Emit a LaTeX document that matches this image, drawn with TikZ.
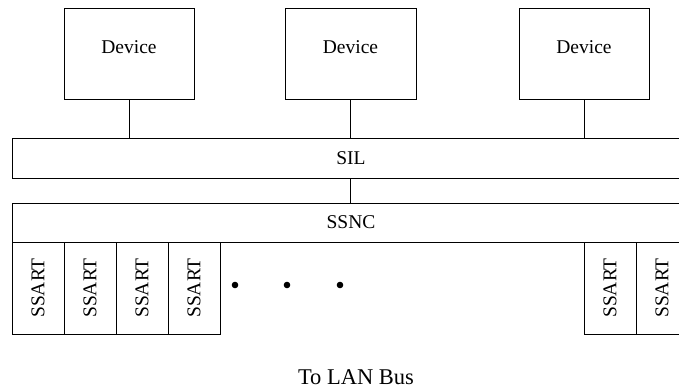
\documentclass[tikz,border=0pt]{standalone}
\usepackage{fontspec}
\setmainfont{Liberation Serif}
\begin{document}
\begin{tikzpicture}[x=1pt,y=-1pt,
  box/.style={draw, line width=0.8pt, rectangle, inner sep=0pt, font=\fontsize{19.5}{22}\selectfont},
  conn/.style={draw, line width=0.8pt},
  lbl/.style={font=\fontsize{19.5}{22}\selectfont, inner sep=0pt}]
\useasboundingbox (0,0) rectangle (679,390);
% devices
\node[box, minimum width=130pt, minimum height=91pt] (d1) at (129,53.5) {};
\node[lbl] at (129,47) {Device};
\node[box, minimum width=131pt, minimum height=91pt] (d2) at (350.5,53.5) {};
\node[lbl] at (350.5,47) {Device};
\node[box, minimum width=130pt, minimum height=91pt] (d3) at (584,53.5) {};
\node[lbl] at (584,47) {Device};
% SIL
\node[box, minimum width=678pt, minimum height=40pt] (sil) at (351,158) {SIL};
% SSNC
\node[box, minimum width=678pt, minimum height=39pt] (ssnc) at (351,222.5) {SSNC};
% connectors
\draw[conn] (d1.south) -- (d1.south |- sil.north);
\draw[conn] (d2.south) -- (d2.south |- sil.north);
\draw[conn] (d3.south) -- (d3.south |- sil.north);
\coordinate (silb) at (350,178);
\coordinate (ssnct) at (350,203);
\draw[conn] (silb) -- (ssnct);
% SSART boxes
\foreach \i/\cx in {1/38,2/90,3/142,4/194,5/610,6/662}{
  \node[box, minimum width=52pt, minimum height=92pt] (s\i) at (\cx,288) {\rotatebox{90}{SSART}};
}
% dots
\foreach \i/\dx in {1/235,2/287,3/340}{
  \fill (\dx,285) circle (3.3pt) coordinate (dot\i);
}
\node[font=\fontsize{22.5}{26}\selectfont, inner sep=0pt] (lan) at (356,377) {To LAN Bus};
\end{tikzpicture}
\end{document}
